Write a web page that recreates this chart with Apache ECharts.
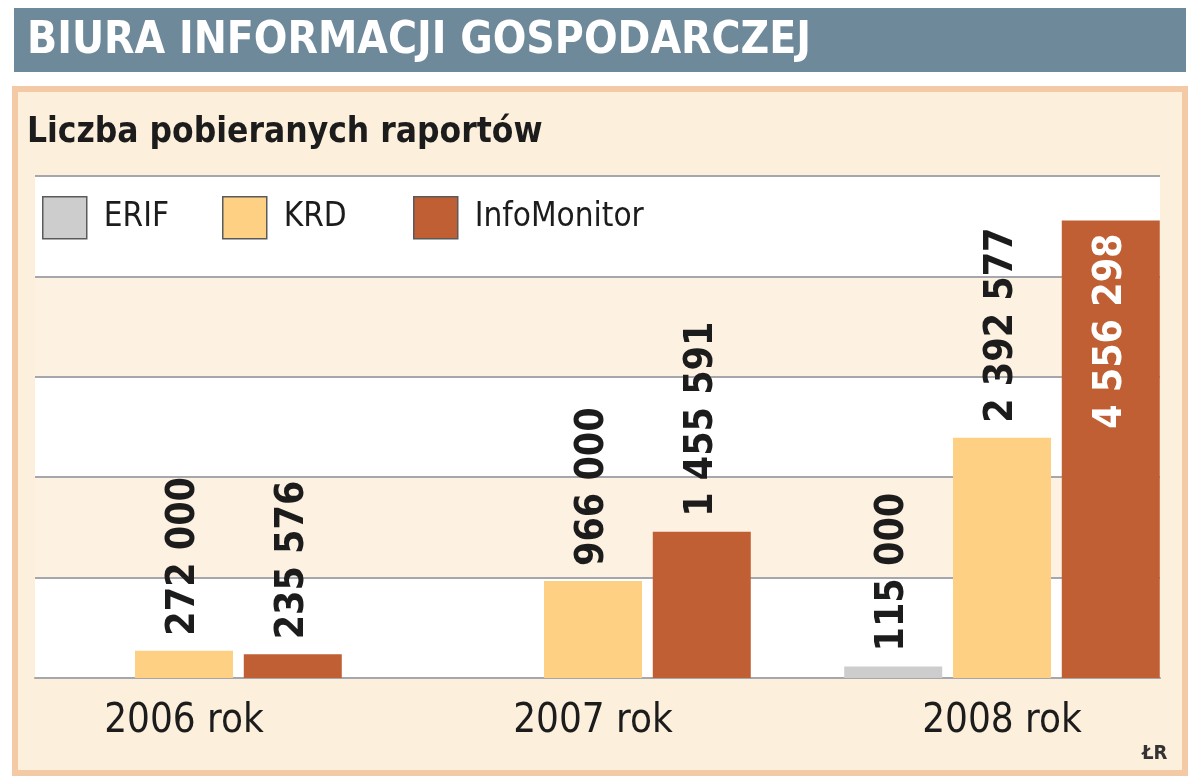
<!DOCTYPE html>
<html>
<head>
<meta charset="utf-8">
<script src="https://cdn.jsdelivr.net/npm/echarts@6/dist/echarts.min.js"></script>
<style>
  html, body { margin: 0; padding: 0; background: #ffffff; }
  #chart { width: 1200px; height: 784px; }
</style>
</head>
<body>
<div id="chart"></div>
<script>
// ---- data ----
const categories = ['2006 rok', '2007 rok', '2008 rok'];
const seriesNames = ['ERIF', 'KRD', 'InfoMonitor'];
const erif = [null, null, 115000];
const krd = [272000, 966000, 2392577];
const infoMonitor = [235576, 1455591, 4556298];
const yTicks = [0, 1000000, 2000000, 3000000, 4000000, 5000000];

const titleText = 'BIURA INFORMACJI GOSPODARCZEJ';
const subtitleText = 'Liczba pobieranych raportów';
const sourceText = 'ŁR';

// ---- styling ----
const FONT = "'Liberation Sans Narrow', 'DejaVu Sans Condensed', 'Roboto Condensed', 'Noto Sans', sans-serif";
const colors = { ERIF: '#cdcdcd', KRD: '#fdd084', InfoMonitor: '#c05f34' };
const W = 1200, H = 784;
const plotTop = 176, plotBottom = 678;

function fmt(v) {
  return String(v).replace(/\B(?=(\d{3})+(?!\d))/g, ' ');
}

const yMax = yTicks[yTicks.length - 1];
const yStep = yTicks[1] - yTicks[0];

function buildData(values) {
  return values.map(v => {
    if (v == null) return null;
    if (v > 0.8 * yMax) {
      return {
        value: v,
        label: { position: 'insideTop', align: 'right', color: '#ffffff', distance: 13 }
      };
    }
    return v;
  });
}

const seriesValues = [erif, krd, infoMonitor];

const series = seriesNames.map((name, i) => ({
  name: name,
  type: 'bar',
  xAxisIndex: 1,
  yAxisIndex: 1,
  barWidth: 98,
  barGap: '11%',
  itemStyle: { color: colors[name] },
  label: {
    show: true,
    position: 'top',
    rotate: 90,
    align: 'left',
    verticalAlign: 'middle',
    distance: 15,
    fontFamily: FONT,
    fontWeight: 'bold',
    fontSize: 39,
    color: '#1c1c1c',
    formatter: p => fmt(p.value)
  },
  data: buildData(seriesValues[i])
}));

const legendStyle = (left, name) => ({
  left: left,
  top: 196,
  padding: 0,
  data: [name],
  itemWidth: 44,
  itemHeight: 42,
  icon: 'rect',
  itemStyle: { borderColor: '#5a5a5a', borderWidth: 1.5 },
  textStyle: { fontFamily: FONT, fontSize: 33, color: '#1c1c1c', padding: [0, 0, 0, 12] }
});

const option = {
  animation: false,
  backgroundColor: '#ffffff',
  graphic: [
    { type: 'rect', z: -10, shape: { x: 14, y: 8, width: 1172, height: 64 }, style: { fill: '#6e899a' } },
    { type: 'rect', z: -10, shape: { x: 15, y: 89, width: 1170, height: 684 },
      style: { fill: '#fcefdc', stroke: '#f4c9a6', lineWidth: 6 } }
  ],
  title: [
    { text: titleText, left: 27, top: 20, padding: 0,
      textStyle: { fontFamily: FONT, fontWeight: 'bold', fontSize: 44, color: '#ffffff' } },
    { text: subtitleText, left: 27, top: 115, padding: 0,
      textStyle: { fontFamily: FONT, fontWeight: 'bold', fontSize: 35, color: '#1c1c1c' } },
    { text: sourceText, left: 1142, top: 744, padding: 0,
      textStyle: { fontFamily: FONT, fontWeight: 'bold', fontSize: 20, color: '#333333' } }
  ],
  legend: [
    legendStyle(42, 'ERIF'),
    legendStyle(222, 'KRD'),
    legendStyle(413, 'InfoMonitor')
  ],
  grid: [
    { left: 35, right: W - 1160, top: plotTop, bottom: H - plotBottom, outerBoundsMode: 'none' },
    { left: -20.5, right: -6.5, top: plotTop, bottom: H - plotBottom, outerBoundsMode: 'none' }
  ],
  xAxis: [
    { type: 'category', gridIndex: 0, data: categories,
      axisLine: { show: true, lineStyle: { color: '#a6a6ad', width: 2 } },
      axisTick: { show: false }, axisLabel: { show: false } },
    { type: 'category', gridIndex: 1, data: categories,
      axisLine: { show: false }, axisTick: { show: false },
      axisLabel: { show: true, fontFamily: FONT, fontSize: 40, color: '#1c1c1c', margin: 24 } }
  ],
  yAxis: [
    { type: 'value', gridIndex: 0, min: 0, max: yMax, interval: yStep,
      axisLine: { show: false }, axisTick: { show: false }, axisLabel: { show: false },
      splitLine: { show: true, lineStyle: { color: '#a6a6ad', width: 2 } },
      splitArea: { show: true, areaStyle: { color: ['#ffffff', '#fdf2e1'] } } },
    { type: 'value', gridIndex: 1, min: 0, max: yMax, interval: yStep, show: false,
      splitLine: { show: false } }
  ],
  series: series
};

const chart = echarts.init(document.getElementById('chart'), null, { renderer: 'canvas' });
chart.setOption(option);
</script>
</body>
</html>
